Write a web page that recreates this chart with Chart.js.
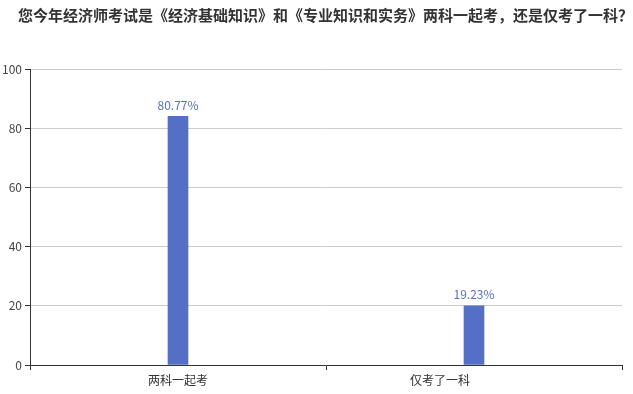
<!DOCTYPE html>
<html>
<head>
<meta charset="utf-8">
<script src="https://cdn.jsdelivr.net/npm/chart.js@4/dist/chart.umd.min.js"></script>
<style>
  html, body { margin: 0; padding: 0; background: #fff; }
  #wrap { width: 633px; height: 394px; position: relative; }
</style>
</head>
<body>
<div id="wrap"><canvas id="chart" width="633" height="394"></canvas></div>
<script>
const titleText = '您今年经济师考试是《经济基础知识》和《专业知识和实务》两科一起考，还是仅考了一科？';
const categories = ['两科一起考', '仅考了一科'];
const counts = [84, 20];
const percentLabels = ['80.77%', '19.23%'];
const yTicks = [0, 20, 40, 60, 80, 100];

const barColor = '#5470c6';
const fontFamily = '"Noto Sans CJK SC", "Noto Sans", sans-serif';
// the original puts the second category name a bit left of its bar
const catLabelShift = [0, -34];

// title drawn at the top-left, like the original
const titlePlugin = {
    id: 'topTitle',
    afterDraw(chart) {
        const ctx = chart.ctx;
        ctx.save();
        ctx.font = 'bold 15px ' + fontFamily;
        ctx.fillStyle = '#333';
        ctx.textAlign = 'left';
        ctx.textBaseline = 'middle';
        ctx.fillText(titleText, 18, 15);
        ctx.restore();
    }
};

// category names under the x axis
const catLabels = {
    id: 'catLabels',
    afterDraw(chart) {
        const ctx = chart.ctx;
        const xs = chart.scales.x;
        ctx.save();
        ctx.font = '12px ' + fontFamily;
        ctx.fillStyle = '#333';
        ctx.textAlign = 'center';
        ctx.textBaseline = 'middle';
        categories.forEach((c, i) => {
            ctx.fillText(c, xs.getPixelForValue(i) + catLabelShift[i], xs.bottom - 14);
        });
        ctx.restore();
    }
};

// percentage labels above each bar
const barLabels = {
    id: 'barLabels',
    afterDatasetsDraw(chart) {
        const ctx = chart.ctx;
        const meta = chart.getDatasetMeta(0);
        ctx.save();
        ctx.font = '12px ' + fontFamily;
        ctx.fillStyle = barColor;
        ctx.textAlign = 'center';
        ctx.textBaseline = 'bottom';
        meta.data.forEach((bar, i) => {
            ctx.fillText(percentLabels[i], bar.x, bar.y - 5);
        });
        ctx.restore();
    }
};

new Chart(document.getElementById('chart').getContext('2d'), {
    type: 'bar',
    data: {
        labels: categories,
        datasets: [{
            data: counts,
            backgroundColor: barColor,
            borderWidth: 0,
            barThickness: 20
        }]
    },
    options: {
        responsive: false,
        animation: false,
        layout: { padding: { top: 69, right: 11, left: 0, bottom: 0 } },
        plugins: {
            legend: { display: false },
            tooltip: { enabled: false }
        },
        scales: {
            x: {
                offset: true,
                grid: {
                    offset: true,
                    drawOnChartArea: false,
                    drawTicks: true,
                    tickLength: 5,
                    tickColor: '#333'
                },
                border: { color: '#333', width: 1 },
                ticks: { display: false },
                afterFit(scale) { scale.height = 29; }
            },
            y: {
                min: 0,
                max: 100,
                afterBuildTicks(scale) {
                    scale.ticks = yTicks.map(v => ({ value: v }));
                },
                grid: {
                    color: '#ccc',
                    tickColor: '#333',
                    tickLength: 5
                },
                border: { color: '#333', width: 1 },
                ticks: {
                    color: '#444',
                    padding: 3,
                    font: { size: 12, family: fontFamily }
                },
                afterFit(scale) { scale.width = 30; }
            }
        }
    },
    plugins: [titlePlugin, catLabels, barLabels]
});
</script>
</body>
</html>
